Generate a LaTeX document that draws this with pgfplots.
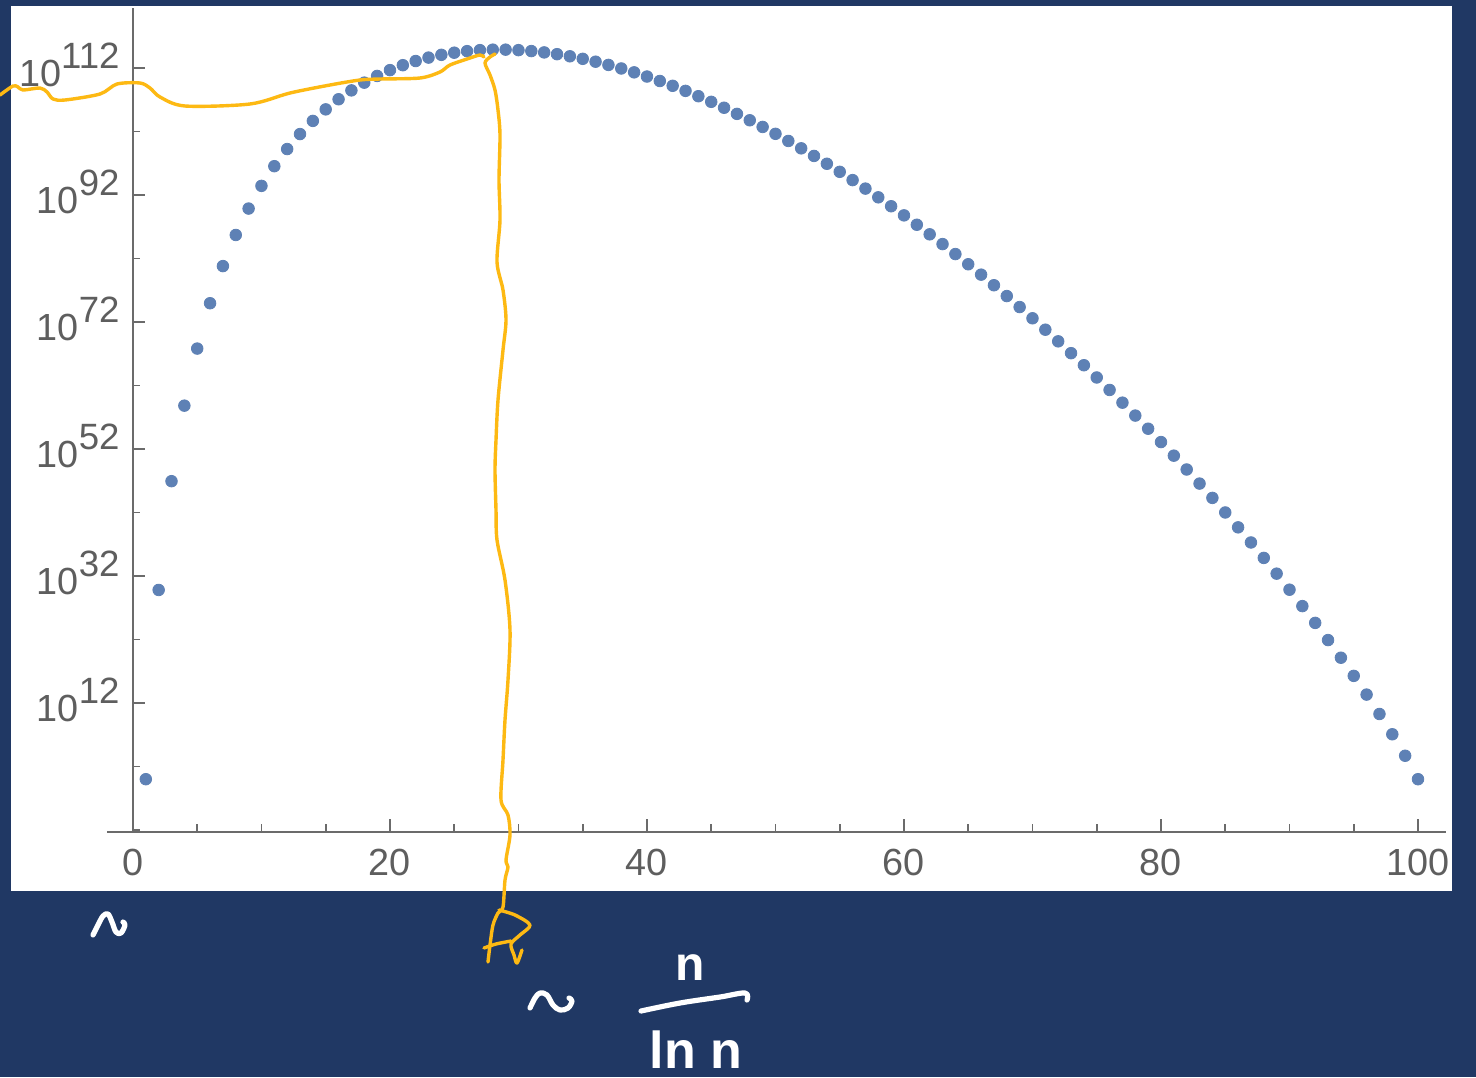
\documentclass[border=0pt]{standalone}
\usepackage{pgfplots}
\pgfplotsset{compat=1.18}
\usepackage{pgfplotstable}
\usepackage{fontspec}
\setmainfont{Liberation Sans}
\definecolor{navy}{HTML}{203864}
\definecolor{hl}{HTML}{FDB913}
\definecolor{dot}{HTML}{5E81B5}
\definecolor{axgray}{HTML}{6B6B6B}
\definecolor{lblgray}{HTML}{5E5E5E}
\newcommand{\tl}[1]{10\raisebox{9pt}{\fontsize{18.3}{20}\selectfont #1}}

% k, log10 of the plotted value (drawn on a log axis: ticks 10^12 ... 10^112)
\pgfplotstableread{
k logS
1 0
2 29.802
3 46.934
4 58.826
5 67.818
6 74.958
7 80.807
8 85.704
9 89.865
10 93.440
11 96.538
12 99.237
13 101.598
14 103.669
15 105.486
16 107.080
17 108.477
18 109.695
19 110.753
20 111.665
21 112.444
22 113.099
23 113.641
24 114.076
25 114.413
26 114.657
27 114.815
28 114.891
29 114.889
30 114.814
31 114.669
32 114.457
33 114.181
34 113.844
35 113.448
36 112.995
37 112.488
38 111.929
39 111.319
40 110.660
41 109.953
42 109.199
43 108.401
44 107.558
45 106.673
46 105.745
47 104.777
48 103.768
49 102.721
50 101.635
51 100.512
52 99.351
53 98.154
54 96.920
55 95.652
56 94.348
57 93.010
58 91.637
59 90.231
60 88.791
61 87.318
62 85.811
63 84.272
64 82.700
65 81.096
66 79.459
67 77.790
68 76.088
69 74.354
70 72.588
71 70.788
72 68.956
73 67.092
74 65.194
75 63.263
76 61.298
77 59.299
78 57.265
79 55.196
80 53.092
81 50.951
82 48.773
83 46.556
84 44.300
85 42.003
86 39.663
87 37.280
88 34.850
89 32.372
90 29.843
91 27.259
92 24.616
93 21.910
94 19.132
95 16.275
96 13.327
97 10.270
98 7.076
99 3.695
100 0
}\stirling

\begin{document}
\begin{tikzpicture}
\begin{scope}[x=0.5pt,y=-0.5pt]
\fill[navy] (0,0) rectangle (1476,1077);
\fill[white] (11,6) rectangle (1452,891);
\end{scope}
\begin{axis}[
  at={(53.5pt,-415.85pt)}, anchor=south west,
  scale only axis, width=669.5pt, height=411.85pt,
  xmin=-2.02, xmax=102.18, ymin=-8.27, ymax=121.45,
  axis x line=bottom, axis y line=middle,
  axis line style={draw=axgray, line width=1.1pt, -},
  every inner y axis line/.append style={-},
  every outer x axis line/.append style={-},
  hide obscured x ticks=false, hide obscured y ticks=false,
  xtick={0,20,40,60,80,100}, xticklabels={0,20,40,60,80,100},
  minor xtick={5,10,15,25,30,35,45,50,55,65,70,75,85,90,95},
  ytick={12,32,52,72,92,112},
  yticklabels={\tl{12},\tl{32},\tl{52},\tl{72},\tl{92},\tl{112}},
  minor ytick={-8,2,22,42,62,82,102},
  tick align=inside, major tick length=6.25pt, minor tick length=3.75pt,
  tick style={draw=axgray, line width=0.9pt},
  ticklabel style={font=\fontsize{18.9}{22}\selectfont, text=lblgray},
  xticklabel style={yshift=-5.3pt},
  yticklabel style={anchor=base east, yshift=-9pt, xshift=-3.2pt},
  clip=false,
]
\addplot[color=dot, only marks, mark=*, mark size=2.9pt, mark options={draw=dot, fill=dot}] table[x=k, y=logS] {\stirling};
\end{axis}
\begin{scope}[x=0.5pt,y=-0.5pt, line cap=round, line join=round]
\draw[hl, line width=1.7pt] plot[smooth, tension=0.5] coordinates {(0,95) (13,86) (18,87) (23,90) (40,88) (47,92) (53,99) (65,100) (100,94) (117,84) (140,83) (150,88) (160,97) (185,106) (250,104) (290,93) (330,85) (360,80) (380,79) (420,78) (440,72) (450,65) (470,58) (480,55) (484,57)};
\draw[hl, line width=1.7pt] plot[smooth, tension=0.5] coordinates {(495,54) (490,57) (485,63) (490,75) (495,90) (498,110) (500,135) (499,180) (500,220) (497,262) (503,290) (506,320) (503,350) (498,400) (496,440) (495,470) (496,510) (497,540) (505,580) (510,630) (508,680) (505,720) (503,760) (501,800) (508,815) (510,835) (506,860) (508,867) (505,880) (503,907) (498,913) (493,925) (490,945) (488,962)};
\draw[hl, line width=1.7pt] plot[smooth, tension=0.5] coordinates {(484,948) (496,944) (511,941)};
\draw[hl, line width=1.7pt] plot[smooth, tension=0.5] coordinates {(499,910) (515,915) (530,925) (520,935) (511,944) (514,955) (517,963) (522,950)};
\draw[white, line width=2.6pt] plot[smooth, tension=0.6] coordinates {(93,935) (98,925) (103,916) (108,914) (112,922) (116,932) (121,933) (125,925) (123,922)};
\draw[white, line width=2.6pt] plot[smooth, tension=0.6] coordinates {(530,1008) (535,998) (540,993) (547,995) (553,1005) (560,1010) (568,1008) (572,1001) (569,998)};
\draw[white, line width=2.6pt] plot[smooth, tension=0.6] coordinates {(641,1011) (680,1003) (720,997) (745,993) (747,1000)};
\node[text=white, font=\fontsize{24}{28}\selectfont\bfseries] at (690,968) {n};
\node[text=white, font=\fontsize{26}{30}\selectfont\bfseries] at (696,1050) {ln n};
\pgfresetboundingbox
\path[use as bounding box] (0,0) rectangle (1476,1077);
\end{scope}
\end{tikzpicture}
\end{document}
